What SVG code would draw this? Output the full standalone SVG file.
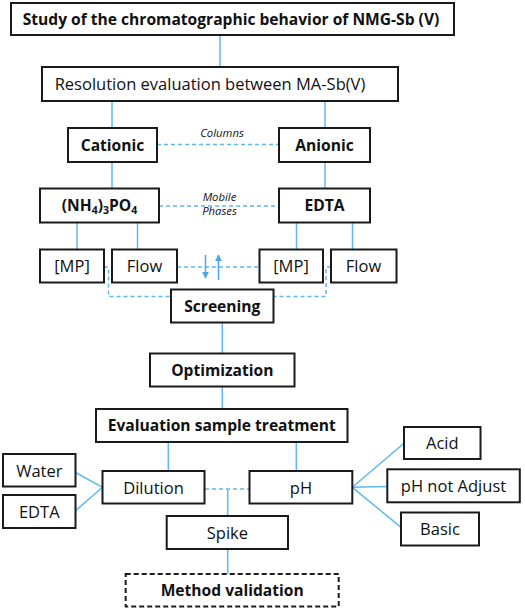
<svg xmlns="http://www.w3.org/2000/svg" width="525" height="610" viewBox="0 0 525 610">
<defs>
<style>
.box{fill:#fff;stroke:#1a1a1a;stroke-width:2}
.dbox{fill:#fff;stroke:#1a1a1a;stroke-width:2;stroke-dasharray:5 3}
.t{font-family:"Open Sans","Noto Sans","Liberation Sans",sans-serif;font-size:16.5px;fill:#111;text-anchor:middle}
.b{font-weight:bold;font-size:15.6px}
.i{font-style:italic;font-size:11.3px}
.ln{stroke:#5fb9f0;stroke-width:1.5;fill:none}
.dl{stroke:#5fb9f0;stroke-width:1.5;fill:none;stroke-dasharray:4 3}
.ar{stroke:#4aa6e6;stroke-width:1.5;fill:none}
</style>
<marker id="ah" viewBox="0 0 10 10" refX="9" refY="5" markerWidth="5" markerHeight="4.5" orient="auto" markerUnits="strokeWidth">
<path d="M0,0 L10,5 L0,10 z" fill="#4aa6e6"/>
</marker>
</defs>
<g id="connectors">
<line class="ln" x1="220" y1="35" x2="220" y2="67"/>
<line class="ln" x1="112" y1="101" x2="112" y2="128"/>
<line class="ln" x1="325" y1="101" x2="325" y2="128"/>
<line class="dl" x1="157" y1="144.5" x2="279" y2="144.5"/>
<line class="ln" x1="112" y1="162" x2="112" y2="188"/>
<line class="ln" x1="325" y1="162" x2="325" y2="188"/>
<line class="dl" x1="159" y1="206" x2="279" y2="206"/>
<line class="ln" x1="77" y1="222" x2="77" y2="249"/>
<line class="ln" x1="137.5" y1="222" x2="137.5" y2="249"/>
<line class="ln" x1="296.5" y1="222" x2="296.5" y2="249"/>
<line class="ln" x1="352.5" y1="222" x2="352.5" y2="249"/>
<line class="dl" x1="177" y1="267" x2="259" y2="267"/>
<path class="dl" d="M104,267 H108.5 V296.5 H171"/>
<path class="dl" d="M331,267 H326 V296.5 H273"/>
<line class="ar" x1="205.5" y1="255" x2="205.5" y2="278" marker-end="url(#ah)"/>
<line class="ar" x1="218.5" y1="280" x2="218.5" y2="255" marker-end="url(#ah)"/>
<line class="ln" x1="222.3" y1="322.5" x2="222.3" y2="353.5"/>
<line class="ln" x1="222.3" y1="386.5" x2="222.3" y2="409"/>
<line class="ln" x1="168.3" y1="442" x2="168.3" y2="471"/>
<line class="ln" x1="296.3" y1="442" x2="296.3" y2="471"/>
<line class="ln" x1="75.5" y1="472.5" x2="102.5" y2="487.3"/>
<line class="ln" x1="75.5" y1="510.7" x2="102.5" y2="487.3"/>
<line class="dl" x1="205" y1="489" x2="249" y2="489"/>
<line class="ln" x1="227.7" y1="489" x2="227.7" y2="516"/>
<line class="ln" x1="227.7" y1="549" x2="227.7" y2="574"/>
<line class="ln" x1="352.3" y1="487.3" x2="404" y2="443.3"/>
<line class="ln" x1="352.3" y1="487.3" x2="387.3" y2="486.5"/>
<line class="ln" x1="352.3" y1="487.3" x2="401" y2="527.3"/>
</g>
<g id="n-title"><rect class="box" x="11" y="3" width="443" height="32"/><text class="t b" x="231" y="24.5">Study of the chromatographic behavior of NMG-Sb (V)</text></g>
<g id="n-resolution"><rect class="box" x="42" y="67" width="356" height="34"/><text class="t" x="210" y="90">Resolution evaluation between MA-Sb(V)</text></g>
<g id="n-cationic"><rect class="box" x="68" y="128" width="89" height="34"/><text class="t b" x="112.5" y="150.5">Cationic</text></g>
<g id="n-anionic"><rect class="box" x="279" y="128" width="91" height="34"/><text class="t b" x="324.5" y="150.5">Anionic</text></g>
<text class="t i" x="222" y="137">Columns</text>
<g id="n-nh4po4"><rect class="box" x="40" y="188.5" width="119" height="34"/><text class="t b" x="99.5" y="211">(NH<tspan font-size="10.5" dy="3">4</tspan><tspan dy="-3">)</tspan><tspan font-size="10.5" dy="3">3</tspan><tspan dy="-3">PO</tspan><tspan font-size="10.5" dy="3">4</tspan></text></g>
<g id="n-edta1"><rect class="box" x="279" y="188.5" width="91" height="34"/><text class="t b" x="324.5" y="211">EDTA</text></g>
<text class="t i" x="219.5" y="201">Mobile</text>
<text class="t i" x="219.5" y="215">Phases</text>
<g id="n-mp1"><rect class="box" x="40" y="249.5" width="64" height="33"/><text class="t" x="72" y="272">[MP]</text></g>
<g id="n-flow1"><rect class="box" x="112" y="249.5" width="65" height="33"/><text class="t" x="144.5" y="272">Flow</text></g>
<g id="n-mp2"><rect class="box" x="259.5" y="249.5" width="63.5" height="33"/><text class="t" x="291" y="272">[MP]</text></g>
<g id="n-flow2"><rect class="box" x="331" y="249.5" width="65.5" height="33"/><text class="t" x="363.5" y="272">Flow</text></g>
<g id="n-screening"><rect class="box" x="171" y="289.5" width="102.5" height="33"/><text class="t b" x="222.3" y="311.5">Screening</text></g>
<g id="n-optimization"><rect class="box" x="150" y="353.5" width="144.5" height="33"/><text class="t b" x="222.3" y="375.5">Optimization</text></g>
<g id="n-evaluation"><rect class="box" x="96" y="409" width="251.5" height="33"/><text class="t b" x="221.8" y="431">Evaluation sample treatment</text></g>
<g id="n-water"><rect class="box" x="3" y="454" width="72.5" height="32.5"/><text class="t" x="39.3" y="476.5">Water</text></g>
<g id="n-edta2"><rect class="box" x="3" y="495" width="72.5" height="33"/><text class="t" x="39.3" y="517.5">EDTA</text></g>
<g id="n-dilution"><rect class="box" x="102.5" y="471" width="102" height="32.5"/><text class="t" x="153.5" y="493.5">Dilution</text></g>
<g id="n-ph"><rect class="box" x="249.5" y="471" width="102.8" height="32.5"/><text class="t" x="301" y="493.5">pH</text></g>
<g id="n-acid"><rect class="box" x="404" y="427" width="76.5" height="32"/><text class="t" x="442.3" y="449">Acid</text></g>
<g id="n-phnot"><rect class="box" x="387.3" y="469.3" width="132.5" height="33"/><text class="t" x="453.5" y="491.5">pH not Adjust</text></g>
<g id="n-basic"><rect class="box" x="401" y="512.5" width="78" height="33"/><text class="t" x="440" y="535">Basic</text></g>
<g id="n-spike"><rect class="box" x="166.7" y="516" width="121.3" height="33"/><text class="t" x="227.4" y="538.5">Spike</text></g>
<g id="n-method"><rect class="dbox" x="125.7" y="574" width="213" height="32.5"/><text class="t b" x="232.2" y="596">Method validation</text></g>
</svg>
